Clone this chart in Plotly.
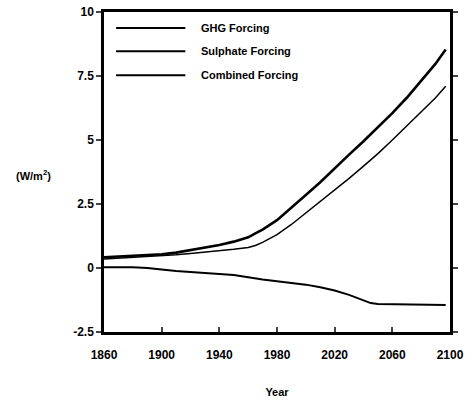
import plotly.graph_objects as go

years = [1860, 1870, 1880, 1890, 1900, 1910, 1920, 1930, 1940, 1950, 1960, 1965, 1970,
         1980, 1990, 2000, 2010, 2020, 2030, 2040, 2045, 2050, 2060, 2070, 2080, 2090, 2097]
ghg = [0.42, 0.45, 0.48, 0.51, 0.54, 0.6, 0.7, 0.8, 0.9, 1.03, 1.2, 1.35, 1.5,
       1.87, 2.35, 2.85, 3.35, 3.9, 4.43, 4.95, 5.22, 5.5, 6.05, 6.65, 7.3, 7.98, 8.54]
combined = [0.35, 0.38, 0.42, 0.45, 0.48, 0.52, 0.57, 0.62, 0.68, 0.73, 0.8, 0.88, 1.0,
            1.3, 1.7, 2.15, 2.58, 3.05, 3.5, 3.98, 4.22, 4.47, 5.0, 5.55, 6.1, 6.65, 7.1]
sulphate = [0.03, 0.03, 0.03, 0.0, -0.07, -0.12, -0.16, -0.19, -0.22, -0.27, -0.36, -0.41, -0.45,
            -0.52, -0.58, -0.65, -0.75, -0.88, -1.05, -1.26, -1.37, -1.41, -1.42, -1.43, -1.44, -1.45, -1.45]

legend_names = ["GHG Forcing", "Sulphate Forcing", "Combined Forcing"]
x_ticks = [1860, 1900, 1940, 1980, 2020, 2060, 2100]
y_ticks = [-2.5, 0, 2.5, 5, 7.5, 10]
y_tick_text = ["-2.5", "0", "2.5", "5", "7.5", "10"]

FONT = "Liberation Sans"
fig = go.Figure()
fig.add_trace(go.Scatter(x=years, y=ghg, mode="lines", name=legend_names[0],
                         line=dict(color="black", width=2.6)))
fig.add_trace(go.Scatter(x=years, y=sulphate, mode="lines", name=legend_names[1],
                         line=dict(color="black", width=2.0)))
fig.add_trace(go.Scatter(x=years, y=combined, mode="lines", name=legend_names[2],
                         line=dict(color="black", width=1.5)))

# manual legend
leg_y = [0.95, 0.877, 0.802]
for name, yy in zip(legend_names, leg_y):
    fig.add_shape(type="line", xref="paper", yref="paper", x0=0.035, x1=0.235, y0=yy, y1=yy,
                  line=dict(color="black", width=2))
    fig.add_annotation(xref="paper", yref="paper", x=0.275, y=yy, text=name, showarrow=False,
                       xanchor="left", yanchor="middle",
                       font=dict(family=FONT, size=11, color="black", weight=700))

fig.add_annotation(xref="paper", yref="paper", x=-0.26, y=0.49, text="(W/m<sup>2</sup>)",
                   showarrow=False, xanchor="left", yanchor="middle",
                   font=dict(family=FONT, size=11, color="black", weight=700))

fig.update_layout(
    width=473, height=406,
    margin=dict(l=104, r=23, t=12, b=74, autoexpand=False),
    plot_bgcolor="white", paper_bgcolor="white",
    showlegend=False,
    font=dict(family=FONT, size=11, color="black", weight=700),
    xaxis=dict(range=[1860, 2100], tickvals=x_ticks, ticks="inside", ticklen=5, tickwidth=2,
               showline=True, linecolor="black", linewidth=2.5, mirror=True,
               showgrid=False, zeroline=False, ticklabelstandoff=10, automargin=False,
               tickfont=dict(family=FONT, size=12, color="black", weight=700),
               title=dict(text="Year", standoff=28,
                          font=dict(family=FONT, size=11, color="black", weight=700))),
    yaxis=dict(range=[-2.5, 10], tickvals=y_ticks, ticktext=y_tick_text, ticks="outside",
               ticklen=5, tickwidth=2, showline=True, linecolor="black", linewidth=2.5,
               mirror="ticks", showgrid=False, zeroline=False, automargin=False,
               tickfont=dict(family=FONT, size=12, color="black", weight=700)),
)

fig.write_html("out.html")
